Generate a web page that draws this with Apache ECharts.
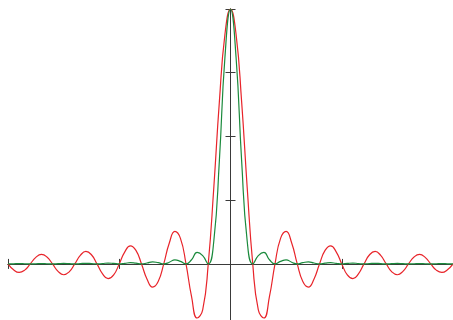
<!DOCTYPE html>
<html>
<head>
<meta charset="utf-8">
<script src="https://cdn.jsdelivr.net/npm/echarts@6/dist/echarts.min.js"></script>
<style>html,body{margin:0;padding:0;background:#fff;}#c{width:453px;height:320px;}</style>
</head>
<body>
<div id="c"></div>
<script>
// x positions in units of pi
var xValues = [-10,-9.75,-9.5,-9.25,-9,-8.75,-8.5,-8.25,-8,-7.75,-7.5,-7.25,-7,-6.75,-6.5,-6.25,-6,-5.75,-5.5,-5.25,-5,-4.75,-4.5,-4.25,-4,-3.75,-3.5,-3.25,-3,-2.75,-2.5,-2.25,-2,-1.75,-1.5,-1.25,-1,-0.75,-0.5,-0.25,0,0.25,0.5,0.75,1,1.25,1.5,1.75,2,2.25,2.5,2.75,3,3.25,3.5,3.75,4,4.25,4.5,4.75,5,5.25,5.5,5.75,6,6.25,6.5,6.75,7,7.25,7.5,7.75,8,8.25,8.5,8.75,9,9.25,9.5,9.75,10];
// red curve
var redValues = [0,-0.0231,-0.0335,-0.0243,0,0.0257,0.0374,0.0273,0,-0.0290,-0.0424,-0.0310,0,0.0333,0.0490,0.0360,0,-0.0391,-0.0579,-0.0429,0,0.0474,0.0707,0.0530,0,-0.0600,-0.0909,-0.0693,0,0.0819,0.1273,0.1000,0,-0.1286,-0.2122,-0.1801,0,0.3001,0.6366,0.9003,1,0.9003,0.6366,0.3001,0,-0.1801,-0.2122,-0.1286,0,0.1000,0.1273,0.0819,0,-0.0693,-0.0909,-0.0600,0,0.0530,0.0707,0.0474,0,-0.0429,-0.0579,-0.0391,0,0.0360,0.0490,0.0333,0,-0.0310,-0.0424,-0.0290,0,0.0273,0.0374,0.0257,0,-0.0243,-0.0335,-0.0231,0];
// green curve
var greenValues = [0,0.0005,0.0011,0.0006,0,0.0007,0.0014,0.0007,0,0.0008,0.0018,0.0010,0,0.0011,0.0024,0.0013,0,0.0015,0.0034,0.0018,0,0.0022,0.0050,0.0028,0,0.0036,0.0083,0.0048,0,0.0067,0.0162,0.0100,0,0.0165,0.0450,0.0324,0,0.0901,0.4053,0.8106,1,0.8106,0.4053,0.0901,0,0.0324,0.0450,0.0165,0,0.0100,0.0162,0.0067,0,0.0048,0.0083,0.0036,0,0.0028,0.0050,0.0022,0,0.0018,0.0034,0.0015,0,0.0013,0.0024,0.0011,0,0.0010,0.0018,0.0008,0,0.0007,0.0014,0.0007,0,0.0006,0.0011,0.0005,0];
var xTicks = [-10,-5,0,5,10];
var yTicks = [0.25,0.5,0.75,1];

function pairs(ys){ return xValues.map(function(x,i){ return [x, ys[i]]; }); }

var axisColor = '#3a3a3a';
function xAx(inside){
  return {type:'value', min:-10, max:10, position:'bottom',
    axisLine:{show:true, onZero:true, lineStyle:{color:axisColor, width:1}},
    axisTick:{show:true, inside:inside, length:5, customValues:xTicks, lineStyle:{color:axisColor}},
    axisLabel:{show:false}, splitLine:{show:false}};
}
function yAx(inside){
  return {type:'value', min:-0.22, max:1, position:'left',
    axisLine:{show:true, onZero:true, lineStyle:{color:axisColor, width:1}},
    axisTick:{show:true, inside:inside, length:5, customValues:yTicks, lineStyle:{color:axisColor}},
    axisLabel:{show:false}, splitLine:{show:false}};
}
var chart = echarts.init(document.getElementById('c'), null, {renderer:'canvas'});
chart.setOption({
  animation:false,
  grid:{left:8, right:0, top:9, bottom:0, containLabel:false},
  xAxis:[xAx(false), xAx(true)],
  yAxis:[yAx(false), yAx(true)],
  series:[
    {type:'line', xAxisIndex:0, yAxisIndex:0, data:pairs(redValues), showSymbol:false, smooth:0.5,
     lineStyle:{color:'#e8242a', width:1.2}, itemStyle:{color:'#e8242a'}},
    {type:'line', xAxisIndex:0, yAxisIndex:0, data:pairs(greenValues), showSymbol:false, smooth:0.5,
     lineStyle:{color:'#1a8a3c', width:1.2}, itemStyle:{color:'#1a8a3c'}}
  ]
});
</script>
</body>
</html>
